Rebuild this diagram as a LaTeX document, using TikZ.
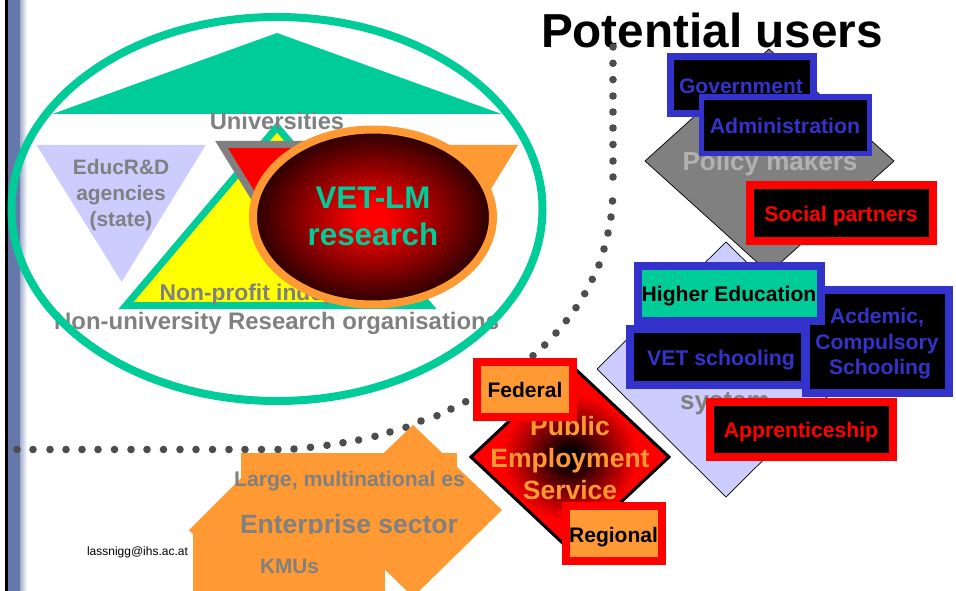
\documentclass[tikz,border=0pt]{standalone}
\usepackage{fontspec}
\setmainfont{Liberation Sans}
\usetikzlibrary{shapes.geometric}
\definecolor{vgreen}{HTML}{00CC99}
\definecolor{vlav}{HTML}{CCCCFF}
\definecolor{vgray}{HTML}{808080}
\definecolor{vlgray}{HTML}{B2B2B2}
\definecolor{vblue}{HTML}{3333CC}
\definecolor{vorange}{HTML}{FF9933}
\definecolor{vbar}{HTML}{6677AA}
\definecolor{vdot}{HTML}{4D4D4D}
\definecolor{vyellow}{RGB}{255,255,0}
\pgfdeclareradialshading{vetshade}{\pgfpoint{0bp}{0bp}}{color(0bp)=(red); color(3bp)=(red); color(29bp)=(black); color(100bp)=(black)}
\pgfdeclareradialshading{pesshade}{\pgfpoint{0bp}{0bp}}{color(0bp)=(black); color(2bp)=(black); color(17bp)=(red); color(100bp)=(red)}
\newcommand{\px}[1]{\fontsize{#1}{#1}\selectfont\bfseries}
\tikzset{
  x=1pt,y=-1pt,
  lbl/.style={inner sep=0pt,font=\px{#1},align=center},
  lbl/.default=21.2,
  graylbl/.style={lbl=#1,text=vgray},
  graylbl/.default=21.2,
  boxblue/.style={draw=vblue,line width=7pt,fill=black,miter limit=10},
  boxred/.style={draw=red,line width=8pt,fill=black},
  boxorange/.style={draw=red,line width=8pt,fill=vorange},
  dia/.style={draw=black,line width=0.7pt},
  dotmark/.style={fill=vdot}
}
\begin{document}
\begin{tikzpicture}
\useasboundingbox (0,0) rectangle (956,591);
\clip (0,0) rectangle (956,591);
\fill[white] (0,0) rectangle (956,591);
% left bar
\fill[black] (5,0) rectangle (8,591);
\fill[vbar] (8,0) rectangle (20,591);
\shade[left color=vbar!60!white,right color=white] (20,0) rectangle (27,591);
% title
\node[lbl=47.7,text=black] (title) at (712,30) {Potential users};
% top-left group
\fill[vgreen] (277,33) -- (501.7,114) -- (52.4,114) -- cycle;
\fill[vlav] (36.5,145) -- (205.7,145) -- (121.6,282) -- cycle;
\fill[vorange] (349,145) -- (518,145) -- (433.5,282) -- cycle;
\draw[draw=vgreen,fill=vyellow,line width=7pt,miter limit=10] (277,127) -- (429,305.5) -- (126,305.5) -- cycle;
\draw[draw=vgray,fill=red,line width=7pt,miter limit=10] (221.5,144.5) -- (390,144.5) -- (306,282) -- cycle;
\node[graylbl=23.7] (univ) at (277,121) {Universities};
\node[graylbl=20.9,text width=120pt] (educ) at (121,195) {EducR\&D\\[5.1pt]agencies\\[5.1pt](state)};
\node[graylbl=22.8,anchor=west] (nonprofit) at (159.5,295) {Non-profit indep};
\node[graylbl=23.9] (nonuni) at (276.7,323) {Non-university Research organisations};
\shade[shading=vetshade,draw=vorange,line width=8pt] (373,217) ellipse [x radius=120,y radius=87.5];
\node[lbl=31.3,text=vgreen] (vet) at (373,216.5) {VET-LM\\[6pt]research};
\draw[draw=vgreen,line width=8pt] (277,209) ellipse [x radius=265.5,y radius=192];
% dots
\foreach \a/\b in {613/47,613/63.3,613/79.6,613/96,613/112,613/128,613/144.5,613/161,613/177,
  612.5/201,611/217,608/233,604/249,599/265,592.3/279.3,584.7/293.7,576/307.7,566.3/320.7,556/333,544.7/345,533/355.7,
  465.7/401.7,451/409,437/415.7,421/421,406/427.3,390/432,375/436.3,358.6/440,343/442.7,327/445.3,310.5/447.3,294/449,278/449.5,
  261.5/449.5,245/449.5,229/449.5,212.5/449.5,196/449.5,180/449.5,163.5/449.5,147/449.5,131/449.5,114.5/449.5,98/449.5,82/449.5,66/449.5,50/449.5,33/449.5,17/449.5}
  {\fill[dotmark] (\a,\b) circle [radius=3.8];}
% policy makers
\draw[dia,fill=vgray] (769,49) -- (894,161) -- (769,273) -- (645,161) -- cycle;
\node[lbl=26,text=vlgray] (policy) at (770,164) {Policy makers};
\draw[boxblue] (670,57) rectangle (813,113.5);
\node[lbl=21,text=vblue] (gov) at (741,86) {Government};
\draw[boxblue,line width=5.5pt] (701.5,97) rectangle (869.5,153.5);
\node[lbl=21.3,text=vblue] (admin) at (785,126) {Administration};
\draw[boxred] (750,185) rectangle (933,241);
\node[lbl=21.2,text=red] (social) at (841,216) {Social partners};
% education
\draw[dia,fill=vlav] (726,242) -- (855,369) -- (726,497) -- (597,369) -- cycle;
\node[graylbl=26] (system) at (725,404) {system};
\draw[boxblue,line width=8pt] (806,290) rectangle (949,393);
\node[lbl=21.1,text=vblue] (acad) at (877,344) {Acdemic,\\[4.4pt]Compulsory\\[4.4pt]\hspace*{6pt}Schooling};
\draw[boxblue,line width=8pt,fill=vgreen] (638,266) rectangle (821,321);
\node[lbl=21.1,text=black] (higher) at (729,296) {Higher Education};
\draw[boxblue,line width=8pt] (630,329) rectangle (805,385);
\node[lbl=21.3,text=vblue] (vetsch) at (721,360) {VET schooling};
\draw[boxred] (710,402) rectangle (893,457);
\node[lbl=21.2,text=red] (appr) at (801,432) {Apprenticeship};
% enterprise
\fill[vorange] (189,530) -- (266,453) -- (343,530) -- (266,607) -- cycle;
\fill[vorange] (413,425) -- (502,510) -- (413,597) -- (324,510) -- cycle;
\fill[vorange] (241,453) rectangle (457,540);
\node[graylbl=21.2] (large) at (349.5,481) {Large, multinational es};
\node[graylbl=26.5] (enter) at (349,527) {Enterprise sector};
\fill[vorange] (193,534) rectangle (385,600);
\node[graylbl=20.8] (kmu) at (289.5,566.5) {KMUs};
\node[inner sep=0pt,font=\fontsize{12}{12}\selectfont] (mail) at (137.5,552) {lassnigg@ihs.ac.at};
% PES
\shade[shading=pesshade,draw=black,line width=3pt] (570,364) -- (669,457) -- (570,550) -- (471,457) -- cycle;
\node[lbl=26.5,text=vorange] (pes) at (570,458) {Public\\[5.5pt]Employment\\[5.5pt]Service};
\draw[boxorange] (477,361.5) rectangle (573,417);
\node[lbl=21,text=black] (fed) at (525,389.5) {Federal};
\draw[boxorange] (565.5,506) rectangle (661.5,561);
\node[lbl=21,text=black] (reg) at (613.5,537) {Regional};
\end{tikzpicture}
\end{document}
